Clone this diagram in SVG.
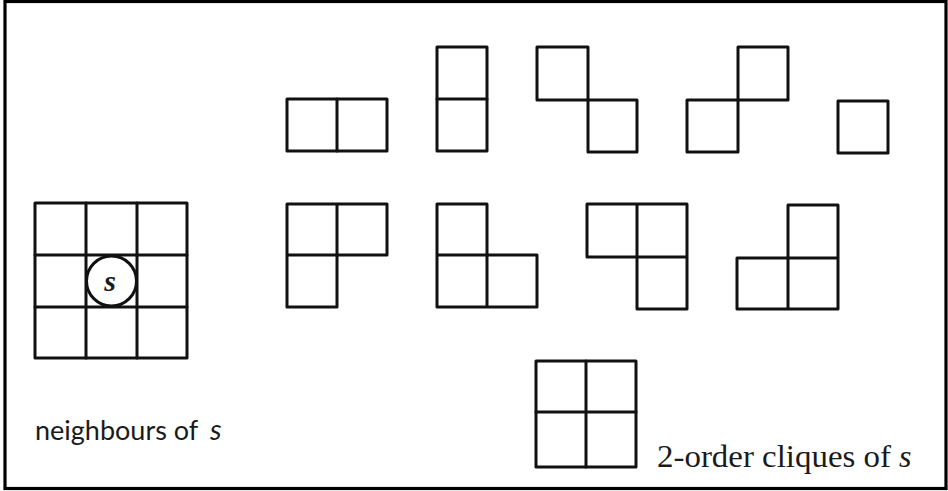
<svg xmlns="http://www.w3.org/2000/svg" width="948" height="491" viewBox="0 0 948 491">
<style>
.g{fill:none;stroke:#111;stroke-width:3;stroke-linejoin:round;stroke-linecap:round}
.serif{font-family:"Liberation Serif","Times New Roman",serif;fill:#1a1a1a}
.sans{font-family:Lato,"Open Sans","Liberation Sans",sans-serif;fill:#1a1a1a}
</style>
<rect x="0" y="0" width="948" height="491" fill="#fff"/>
<rect x="5" y="1.5" width="941" height="487" fill="none" stroke="#000" stroke-width="3.2"/>

<g id="neighbours">
<rect class="g" x="35" y="203" width="152" height="155"/>
<path class="g" d="M86 203V358M137 203V358M35 255H187M35 307H187"/>
<circle cx="111.5" cy="281" r="25" fill="#fff" stroke="#111" stroke-width="3"/>
<text class="serif" x="110" y="291" font-size="30" font-style="italic" font-weight="bold" text-anchor="middle">s</text>
</g>

<g id="clique-h">
<rect class="g" x="287" y="99" width="100" height="52"/>
<path class="g" d="M337 99V151"/>
</g>
<g id="clique-v">
<rect class="g" x="437" y="47" width="50" height="104"/>
<path class="g" d="M437 99H487"/>
</g>
<g id="clique-d1">
<rect class="g" x="537" y="47" width="51" height="53"/>
<rect class="g" x="588" y="100" width="49" height="52"/>
</g>
<g id="clique-d2">
<rect class="g" x="738" y="47" width="50" height="53"/>
<rect class="g" x="687" y="100" width="51" height="52"/>
</g>
<g id="clique-single">
<rect class="g" x="838" y="101" width="50" height="52"/>
</g>

<g id="clique-L1">
<path class="g" d="M287 204H387V255H287ZM287 204V307H337V204"/>
</g>
<g id="clique-L2">
<path class="g" d="M437 204H487V307H437ZM437 255H537V307H487"/>
</g>
<g id="clique-L3">
<path class="g" d="M587 204H687V257H587ZM637 204V309H687V257"/>
</g>
<g id="clique-L4">
<path class="g" d="M788 205H838V309H788ZM737 258H838M737 258V309H788"/>
</g>

<g id="clique-square">
<rect class="g" x="536" y="361" width="100" height="106"/>
<path class="g" d="M586 361V467M536 412H636"/>
</g>

<g id="labels">
<text class="sans" x="35" y="440" font-size="27">neighbours of</text>
<text class="sans" x="210" y="440" font-size="29" font-style="italic">s</text>
<text class="serif" x="657" y="467" font-size="32" textLength="234" lengthAdjust="spacingAndGlyphs">2-order cliques of</text>
<text class="serif" x="899" y="467" font-size="32" font-style="italic">s</text>
</g>
</svg>
